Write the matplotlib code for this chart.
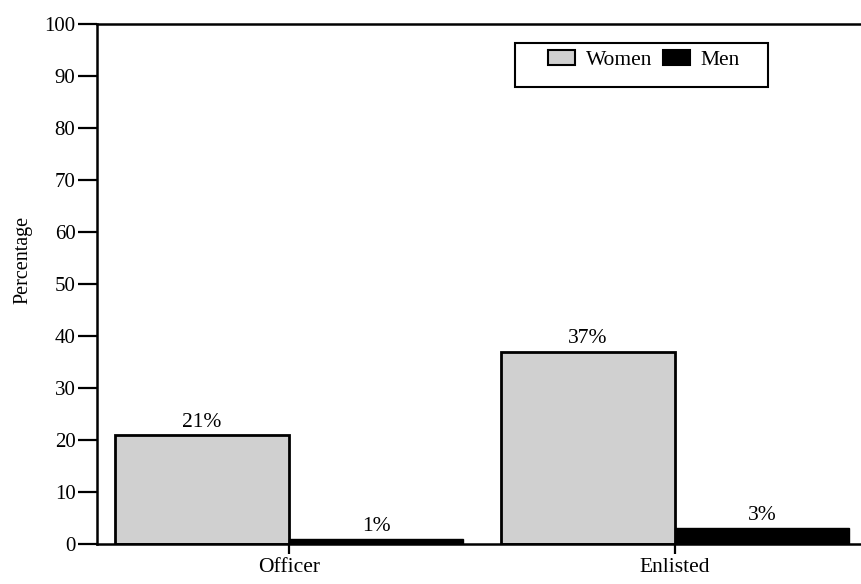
import matplotlib.pyplot as plt
from matplotlib.patches import Rectangle
import numpy as np

plt.rcParams['font.family'] = ['Liberation Serif', 'DejaVu Serif']

# data
categories = ["Officer", "Enlisted"]
women = [21, 37]
men = [1, 3]
yticks = [0, 10, 20, 30, 40, 50, 60, 70, 80, 90, 100]

W, H = 862, 584
fig = plt.figure(figsize=(W/100, H/100), dpi=100)
ax = fig.add_axes([97/W, 40/H, 1 - 97/W, 520/H])

x = np.arange(len(categories))
w = 0.451

ax.bar(x, women, width=-w, align='edge', color='#d0d0d0', edgecolor='black',
       linewidth=2, label='Women')
ax.bar(x, men, width=w, align='edge', color='black', edgecolor='black',
       linewidth=1, label='Men')

# value labels
for xi, v in zip(x, women):
    ax.text(xi - w/2, v + 0.6, f"{v}%", ha='center', va='bottom', fontsize=15.5)
for xi, v in zip(x, men):
    ax.text(xi + w/2, v + 0.6, f"{v}%", ha='center', va='bottom', fontsize=15.5)

ax.set_xlim(-0.497, 1.484)
ax.set_ylim(0, 100)
ax.set_yticks(yticks)
ax.set_yticklabels([str(t) for t in yticks], fontsize=15)
ax.set_xticks(x)
ax.set_xticklabels(categories, fontsize=15.5)
ax.tick_params(axis='y', length=13.5, width=1.6, pad=2)
ax.tick_params(axis='x', length=7, width=1.6, pad=3)

ax.spines['right'].set_visible(False)
for s in ['left', 'top', 'bottom']:
    ax.spines[s].set_linewidth(1.8)

ax.set_ylabel("Percentage", fontsize=14.5)
ax.yaxis.set_label_coords(-0.084, 0.546)

# legend with its own box
leg = ax.legend(ncol=2, loc='center left', bbox_to_anchor=(548/W, 1 - 60/H),
                bbox_transform=fig.transFigure, frameon=False, fontsize=15.5,
                handlelength=1.25, handleheight=0.7, columnspacing=0.5,
                handletextpad=0.5, borderpad=0, borderaxespad=0)
for h in leg.legend_handles:
    h.set_linewidth(1.5)
fig.patches.append(Rectangle((515/W, 1 - 87/H), 253/W, 44/H, transform=fig.transFigure,
                             fill=False, edgecolor='black', linewidth=1.5))

plt.savefig('out.png', dpi=100)
